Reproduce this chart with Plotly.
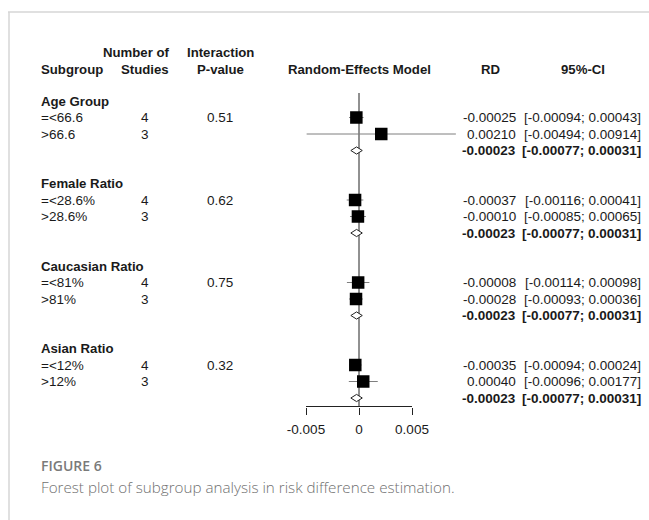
import plotly.graph_objects as go

# ---------------- data ----------------
groups = ["Age Group", "Female Ratio", "Caucasian Ratio", "Asian Ratio"]
sub_labels = [["=<66.6", ">66.6"], ["=<28.6%", ">28.6%"], ["=<81%", ">81%"], ["=<12%", ">12%"]]
n_studies = [[4, 3], [4, 3], [4, 3], [4, 3]]
p_interaction = ["0.51", "0.62", "0.75", "0.32"]
rd = [[-0.00025, 0.00210], [-0.00037, -0.00010], [-0.00008, -0.00028], [-0.00035, 0.00040]]
ci_low = [[-0.00094, -0.00494], [-0.00116, -0.00085], [-0.00114, -0.00093], [-0.00094, -0.00096]]
ci_high = [[0.00043, 0.00914], [0.00041, 0.00065], [0.00098, 0.00036], [0.00024, 0.00177]]
pooled_rd = [-0.00023, -0.00023, -0.00023, -0.00023]
pooled_low = [-0.00077, -0.00077, -0.00077, -0.00077]
pooled_high = [0.00031, 0.00031, 0.00031, 0.00031]
tick_vals = [-0.005, 0, 0.005]
tick_text = ["-0.005", "0", "0.005"]

# ---------------- layout helpers ----------------
W, H = 649, 520
ROW0_PX, ROW_PX = 101, 16.5
AXIS_PX = 406.5


def row(py):
    return (py - ROW0_PX) / ROW_PX


def xp(px):
    return px / W


FONT = "Liberation Sans, Arial, sans-serif"
FS = 13.5
FSH = 13.2
TXT = "#1a1a1a"

fig = go.Figure()

ann = []


def add_text(px, r, text, anchor="left", bold=False, size=FS):
    ann.append(dict(x=xp(px), xref="paper", y=r, yref="y", text=("<b>%s</b>" % text) if bold else text,
                    showarrow=False, xanchor=anchor, yanchor="middle",
                    font=dict(family=FONT, size=size, color=TXT), borderpad=0))


# headers
add_text(136, row(52), "Number of", "center", True, FSH)
add_text(220, row(52), "Interaction", "center", True, FSH)
add_text(40, row(69), "Subgroup", "left", True, FSH)
add_text(144.5, row(69), "Studies", "center", True, FSH)
add_text(220, row(69), "P-value", "center", True, FSH)
add_text(359, row(69), "Random-Effects Model", "center", True, FSH)
add_text(490, row(69), "RD", "center", True, FSH)
add_text(583, row(69), "95%-CI", "center", True, FSH)

xs, ys, em, ep = [], [], [], []
for g in range(len(groups)):
    base = g * 5
    add_text(40, base, groups[g], "left", True, FSH)
    for k in range(2):
        r = base + 1 + k
        add_text(40, r, sub_labels[g][k])
        add_text(145, r, str(n_studies[g][k]), "center")
        if k == 0:
            add_text(220, r, p_interaction[g], "center")
        add_text(517, r, "%.5f" % rd[g][k], "right")
        add_text(642, r, "[%.5f; %.5f]" % (ci_low[g][k], ci_high[g][k]), "right")
        xs.append(rd[g][k])
        ys.append(r)
        em.append(rd[g][k] - ci_low[g][k])
        ep.append(ci_high[g][k] - rd[g][k])
    rs = base + 3
    add_text(517, rs, "%.5f" % pooled_rd[g], "right", True)
    add_text(642, rs, "[%.5f; %.5f]" % (pooled_low[g], pooled_high[g]), "right", True)

axis_row = row(AXIS_PX)
# zero line
fig.add_trace(go.Scatter(x=[0, 0], y=[row(93), axis_row], mode="lines",
                         line=dict(color="#222", width=1), hoverinfo="skip"))
# pooled diamonds
for g in range(len(groups)):
    rs = g * 5 + 3
    h = 3.6 / ROW_PX
    fig.add_trace(go.Scatter(
        x=[pooled_low[g], pooled_rd[g], pooled_high[g], pooled_rd[g], pooled_low[g]],
        y=[rs, rs - h, rs, rs + h, rs], mode="lines", fill="toself", fillcolor="white",
        line=dict(color="#222", width=1), hoverinfo="skip"))
# study estimates with CIs
fig.add_trace(go.Scatter(x=xs, y=ys, mode="markers",
                         marker=dict(symbol="square", size=12.5, color="black", line=dict(width=0)),
                         error_x=dict(type="data", symmetric=False, array=ep, arrayminus=em,
                                      color="#7f7f7f", thickness=1, width=0)))
# axis line
fig.add_trace(go.Scatter(x=[tick_vals[0], tick_vals[-1]], y=[axis_row, axis_row], mode="lines",
                         line=dict(color="#222", width=1), hoverinfo="skip"))

# caption
ann.append(dict(x=xp(40), xref="paper", y=1 - 465 / H, yref="paper", text="FIGURE 6", showarrow=False,
                xanchor="left", yanchor="middle", borderpad=0,
                font=dict(family="Open Sans", size=14, color="#7a7a7a", weight=600)))
ann.append(dict(x=xp(40), xref="paper", y=1 - 487 / H, yref="paper",
                text="Forest plot of subgroup analysis in risk difference estimation.", showarrow=False,
                xanchor="left", yanchor="middle", borderpad=0,
                font=dict(family="Open Sans", size=15.2, color="#707070", weight=300)))

shapes = [
    dict(type="line", xref="paper", yref="paper", x0=xp(8), x1=1, y0=1 - 12 / H, y1=1 - 12 / H,
         line=dict(color="#d6d6d6", width=1.5)),
    dict(type="line", xref="paper", yref="paper", x0=xp(9), x1=xp(9), y0=1 - 12 / H, y1=0,
         line=dict(color="#d6d6d6", width=1.5)),
]

fig.update_layout(
    width=W, height=H, margin=dict(l=0, r=0, t=0, b=0),
    paper_bgcolor="white", plot_bgcolor="rgba(0,0,0,0)", showlegend=False,
    annotations=ann, shapes=shapes,
    xaxis=dict(domain=[xp(253), xp(465)], range=[-0.01, 0.01], anchor="free", position=1 - AXIS_PX / H,
               tickvals=tick_vals, ticktext=tick_text, ticks="outside", ticklen=7.5, tickwidth=1,
               tickcolor="#222", showline=False, showgrid=False, zeroline=False,
               tickfont=dict(family=FONT, size=FS, color=TXT), ticklabelstandoff=3),
    yaxis=dict(domain=[0, 1], range=[row(H), row(0)], visible=False, showgrid=False, zeroline=False),
)

fig.write_html("out.html", config={"displayModeBar": False},
               post_script="document.body.style.margin='0px';document.body.style.overflow='hidden';")
